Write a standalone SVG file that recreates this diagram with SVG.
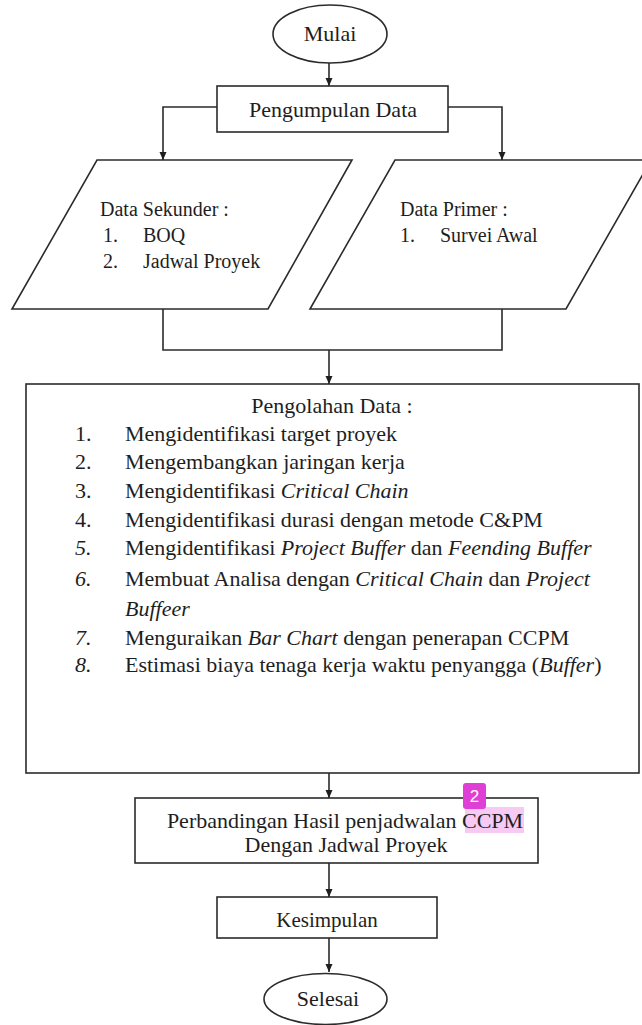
<svg xmlns="http://www.w3.org/2000/svg" width="642" height="1025" viewBox="0 0 642 1025">
<style>
.shape{fill:#fff;stroke:#2b2b2b;stroke-width:1.6}
.conn{fill:none;stroke:#2b2b2b;stroke-width:1.6}
text{font-family:"Liberation Serif","Times New Roman",serif;fill:#1e1e1e}
.t22{font-size:22px}
.t20{font-size:20px}
.c{text-anchor:middle}
.i{font-style:italic}
</style>
<defs>
<marker id="arrow" markerUnits="userSpaceOnUse" markerWidth="9" markerHeight="8" refX="8" refY="3.5" orient="auto">
<path d="M0,0 L8,3.5 L0,7 z" fill="#1e1e1e"/>
</marker>
</defs>
<rect width="642" height="1025" fill="#fff"/>
<g id="mulai">
<ellipse class="shape" cx="330" cy="34" rx="57" ry="29"/>
<text class="t22 c" x="330" y="41">Mulai</text>
</g>
<g id="pengumpulan">
<rect class="shape" x="217" y="86" width="231" height="46"/>
<text class="t22 c" x="333" y="117">Pengumpulan Data</text>
</g>
<g id="data-sekunder">
<polygon class="shape" points="97,160 352,160 268,309 12,309"/>
<text class="t20" x="100" y="216">Data Sekunder :</text>
<text class="t20" x="103" y="242">1.</text>
<text class="t20" x="143" y="242">BOQ</text>
<text class="t20" x="103" y="268">2.</text>
<text class="t20" x="143" y="268">Jadwal Proyek</text>
</g>
<g id="data-primer">
<polygon class="shape" points="395,160 651,160 566,309 310,309"/>
<text class="t20" x="400" y="216">Data Primer :</text>
<text class="t20" x="400" y="242">1.</text>
<text class="t20" x="440" y="242">Survei Awal</text>
</g>
<g id="pengolahan">
<rect class="shape" x="26" y="384" width="613" height="389"/>
<text class="t22 c" x="332" y="413">Pengolahan Data :</text>
<text class="t22" x="75" y="441">1.</text>
<text class="t22" x="125" y="441">Mengidentifikasi target proyek</text>
<text class="t22" x="75" y="469">2.</text>
<text class="t22" x="125" y="469">Mengembangkan jaringan kerja</text>
<text class="t22" x="75" y="498">3.</text>
<text class="t22" x="125" y="498">Mengidentifikasi <tspan class="i">Critical Chain</tspan></text>
<text class="t22" x="75" y="527">4.</text>
<text class="t22" x="125" y="527">Mengidentifikasi durasi dengan metode C&amp;PM</text>
<text class="t22 i" x="75" y="555">5.</text>
<text class="t22" x="125" y="555">Mengidentifikasi <tspan class="i">Project Buffer</tspan> dan <tspan class="i">Feending Buffer</tspan></text>
<text class="t22 i" x="75" y="586">6.</text>
<text class="t22" x="125" y="586">Membuat Analisa dengan <tspan class="i">Critical Chain</tspan> dan <tspan class="i">Project</tspan></text>
<text class="t22 i" x="125" y="616">Buffeer</text>
<text class="t22 i" x="75" y="645">7.</text>
<text class="t22" x="125" y="645">Menguraikan <tspan class="i">Bar Chart</tspan> dengan penerapan CCPM</text>
<text class="t22 i" x="75" y="672">8.</text>
<text class="t22" x="125" y="672">Estimasi biaya tenaga kerja waktu penyangga (<tspan class="i">Buffer</tspan>)</text>
</g>
<g id="perbandingan">
<rect class="shape" x="135" y="798" width="403" height="65"/>
<rect x="465" y="807" width="59" height="26" fill="#e040d0" fill-opacity="0.28"/>
<text class="t22 c" x="345" y="828">Perbandingan Hasil penjadwalan CCPM</text>
<text class="t22 c" x="346" y="852">Dengan Jadwal Proyek</text>
</g>
<g id="annotation">
<rect x="463" y="783" width="23" height="26" rx="3" fill="#e03fd6"/>
<text x="474.5" y="802" style="font-family:'Liberation Sans',Arial,sans-serif;font-size:17px;fill:#fff;text-anchor:middle">2</text>
</g>
<g id="kesimpulan">
<rect class="shape" x="217" y="897" width="220" height="41"/>
<text class="t22 c" x="327" y="927" style="font-size:21px">Kesimpulan</text>
</g>
<g id="selesai">
<ellipse class="shape" cx="325.5" cy="999" rx="61.5" ry="25.5"/>
<text class="t22 c" x="328" y="1006">Selesai</text>
</g>
<g id="connectors">
<path class="conn" d="M329,63 V86" marker-end="url(#arrow)"/>
<path class="conn" d="M217,107 H163 V160" marker-end="url(#arrow)"/>
<path class="conn" d="M448,107 H502 V160" marker-end="url(#arrow)"/>
<path class="conn" d="M163,309 V350 H502 V309"/>
<path class="conn" d="M329,350 V384" marker-end="url(#arrow)"/>
<path class="conn" d="M329,773 V798" marker-end="url(#arrow)"/>
<path class="conn" d="M329,863 V897" marker-end="url(#arrow)"/>
<path class="conn" d="M329,938 V972" marker-end="url(#arrow)"/>
</g>
</svg>
